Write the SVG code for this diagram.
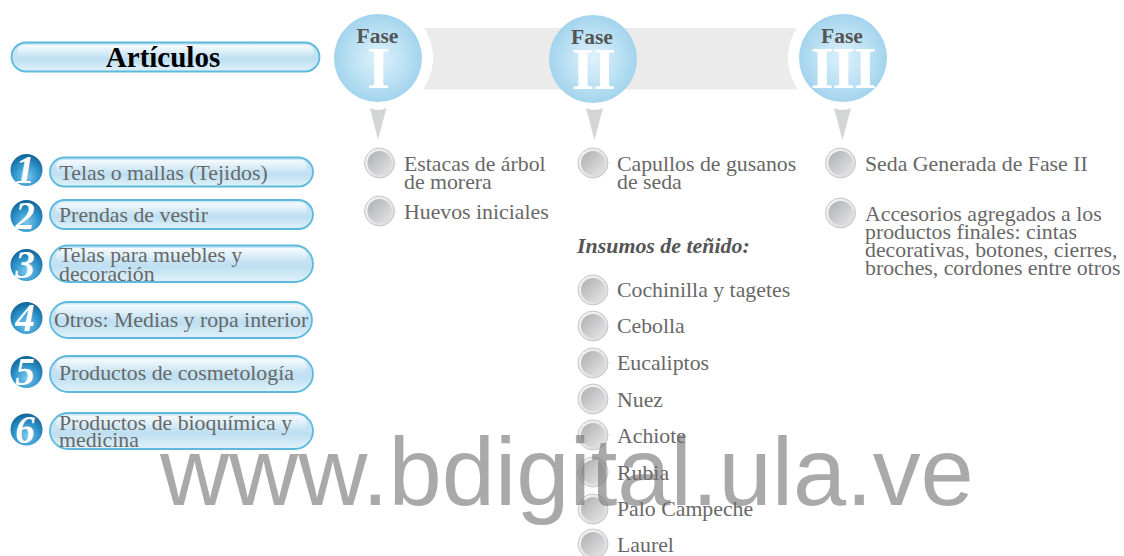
<svg xmlns="http://www.w3.org/2000/svg" width="1124" height="556" viewBox="0 0 1124 556">
<style>
text{font-family:"Liberation Serif","Times New Roman",serif}
.t{font-size:21.800px;fill:#686868}
.pill{fill:url(#pillG);stroke:#5dbade;stroke-width:1.8}
.shine{fill:url(#shineG)}
.fc{fill:url(#faseG)}
.ring{fill:#fff}
.fl{font-size:21.500px;font-weight:bold;fill:#555;text-anchor:middle}
.rn{font-size:59px;font-weight:bold;fill:#fff;text-anchor:middle;letter-spacing:-1.500px}
.num{fill:url(#numG)}
.nt{font-size:39px;font-weight:bold;font-style:italic;fill:#fff;text-anchor:middle}
.tri{fill:#d3d5d7}
.wm{font-family:"Liberation Sans",Arial,sans-serif;font-size:95.700px;fill:#6f6f6f;fill-opacity:.6}
</style>
<defs>
<linearGradient id="pillG" x1="0" y1="0" x2="0" y2="1"><stop offset="0" stop-color="#cfe8f6"/><stop offset=".6" stop-color="#bfe0f2"/><stop offset="1" stop-color="#e2f2fa"/></linearGradient>
<linearGradient id="shineG" x1="0" y1="0" x2="0" y2="1"><stop offset="0" stop-color="#fff" stop-opacity=".8"/><stop offset="1" stop-color="#fff" stop-opacity="0"/></linearGradient>
<radialGradient id="faseG" cx=".5" cy=".5" r=".5"><stop offset="0" stop-color="#dff1fb"/><stop offset=".6" stop-color="#bce1f4"/><stop offset="1" stop-color="#a3d4ed"/></radialGradient>
<linearGradient id="bulI" x1="0" y1="0" x2="1" y2="1"><stop offset="0" stop-color="#adaeb0"/><stop offset="1" stop-color="#e6e6e7"/></linearGradient>
<linearGradient id="bulO" x1="0" y1="0" x2="1" y2="1"><stop offset="0" stop-color="#f7f7f7"/><stop offset="1" stop-color="#d8d8d8"/></linearGradient>
<radialGradient id="numG" cx=".5" cy=".7" r=".65"><stop offset="0" stop-color="#7bc9ee"/><stop offset=".6" stop-color="#2f93ca"/><stop offset="1" stop-color="#14699f"/></radialGradient>
<g id="b"><circle r="15" fill="url(#bulO)" stroke="#c6c6c6" stroke-width="1"/><circle r="12" fill="url(#bulI)"/></g>
</defs>
<rect width="1124" height="556" fill="#fff"/>
<rect id="band" x="420" y="28" width="390" height="61.500" fill="#ebebeb"/>
<g id="articulos"><rect class="pill" x="11.500" y="42.500" width="308" height="29" rx="14.500"/><rect class="shine" x="17" y="45" width="297" height="13" rx="6.500"/><text x="163" y="67" font-size="29" font-weight="bold" fill="#000" text-anchor="middle">Artículos</text></g>
<g id="item1"><circle class="num" cx="26.500" cy="170" r="16"/><text class="nt" x="25" y="183">1</text><rect class="pill" x="50" y="157.500" width="263" height="29" rx="14.500"/><rect class="shine" x="56" y="160" width="251" height="13" rx="6.500"/><text class="t" x="59.500" y="180">Telas o mallas (Tejidos)</text></g>
<g id="item2"><circle class="num" cx="26.500" cy="216" r="16"/><text class="nt" x="25" y="229">2</text><rect class="pill" x="50" y="200" width="263" height="29" rx="14.500"/><rect class="shine" x="56" y="202.500" width="251" height="13" rx="6.500"/><text class="t" x="59" y="222">Prendas de vestir</text></g>
<g id="item3"><circle class="num" cx="26.500" cy="265" r="16"/><text class="nt" x="25" y="278">3</text><rect class="pill" x="50" y="245.500" width="263" height="36.500" rx="18"/><rect class="shine" x="56" y="248" width="251" height="15" rx="7.500"/><text class="t" x="59" y="262">Telas para muebles y</text><text class="t" x="59" y="281">decoración</text></g>
<g id="item4"><circle class="num" cx="26.500" cy="318" r="16"/><text class="nt" x="25" y="331">4</text><rect class="pill" x="50" y="302" width="262" height="36" rx="18"/><rect class="shine" x="56" y="304.500" width="250" height="15" rx="7.500"/><text class="t" x="54" y="327">Otros: Medias y ropa interior</text></g>
<g id="item5"><circle class="num" cx="26.500" cy="372" r="16"/><text class="nt" x="25" y="385">5</text><rect class="pill" x="50" y="356" width="263" height="36" rx="18"/><rect class="shine" x="56" y="358.500" width="251" height="15" rx="7.500"/><text class="t" x="59" y="380">Productos de cosmetología</text></g>
<g id="item6"><circle class="num" cx="26.500" cy="429.500" r="16"/><text class="nt" x="25" y="442.500">6</text><rect class="pill" x="50" y="413" width="263" height="36" rx="18"/><rect class="shine" x="56" y="415.500" width="251" height="15" rx="7.500"/><text class="t" x="59" y="430">Productos de bioquímica y</text><text class="t" x="59" y="447">medicina</text></g>
<g id="fase1"><circle class="ring" cx="378" cy="58" r="55"/><circle class="fc" cx="378" cy="58" r="44"/><text class="fl" x="377.500" y="43">Fase</text><text class="rn" x="378" y="88">I</text></g>
<g id="fase2"><circle class="fc" cx="593" cy="59" r="44"/><text class="fl" x="592" y="44">Fase</text><text class="rn" x="593" y="89">II</text></g>
<g id="fase3"><circle class="ring" cx="843" cy="58" r="55"/><circle class="fc" cx="843" cy="58" r="44"/><text class="fl" x="842" y="43">Fase</text><text class="rn" x="843" y="88">III</text></g>
<g id="connectors">
<path class="tri" d="M370 108q8 4 16.500 0L378 140Z"/>
<path class="tri" d="M586 108q8 4 17 0L594.500 140Z"/>
<path class="tri" d="M834 108q8 4 17 0L842.500 140Z"/>
</g>
<g id="f1a"><use href="#b" x="379.500" y="163"/><text class="t" x="404" y="171">Estacas de árbol</text><text class="t" x="404" y="189">de morera</text></g>
<g id="f1b"><use href="#b" x="379.500" y="211"/><text class="t" x="404" y="219">Huevos iniciales</text></g>
<g id="f2a"><use href="#b" x="593" y="163"/><text class="t" x="617" y="171">Capullos de gusanos</text><text class="t" x="617" y="189">de seda</text></g>
<text id="insumos" x="577" y="253" font-size="21.900" font-weight="bold" font-style="italic" fill="#555">Insumos de teñido:</text>
<g id="d1"><use href="#b" x="593" y="290"/><text class="t" x="617" y="297">Cochinilla y tagetes</text></g>
<g id="d2"><use href="#b" x="593" y="326"/><text class="t" x="617" y="333">Cebolla</text></g>
<g id="d3"><use href="#b" x="593" y="363"/><text class="t" x="617" y="370">Eucaliptos</text></g>
<g id="d4"><use href="#b" x="593" y="399"/><text class="t" x="617" y="407">Nuez</text></g>
<g id="d5"><use href="#b" x="593" y="435"/><text class="t" x="617" y="443">Achiote</text></g>
<g id="d6"><use href="#b" x="593" y="472"/><text class="t" x="617" y="480">Rubia</text></g>
<g id="d7"><use href="#b" x="593" y="509"/><text class="t" x="617" y="516">Palo Campeche</text></g>
<g id="d8"><use href="#b" x="593" y="544"/><text class="t" x="617" y="552">Laurel</text></g>
<g id="f3a"><use href="#b" x="840.500" y="163"/><text class="t" x="865" y="171">Seda Generada de Fase II</text></g>
<g id="f3b"><use href="#b" x="840.500" y="213"/><text class="t" x="865" y="221">Accesorios agregados a los</text><text class="t" x="865" y="239">productos finales: cintas</text><text class="t" x="865" y="257">decorativas, botones, cierres,</text><text class="t" x="865" y="275">broches, cordones entre otros</text></g>
<text id="watermark" class="wm" x="160" y="505">www.bdigital.ula.ve</text>
</svg>
